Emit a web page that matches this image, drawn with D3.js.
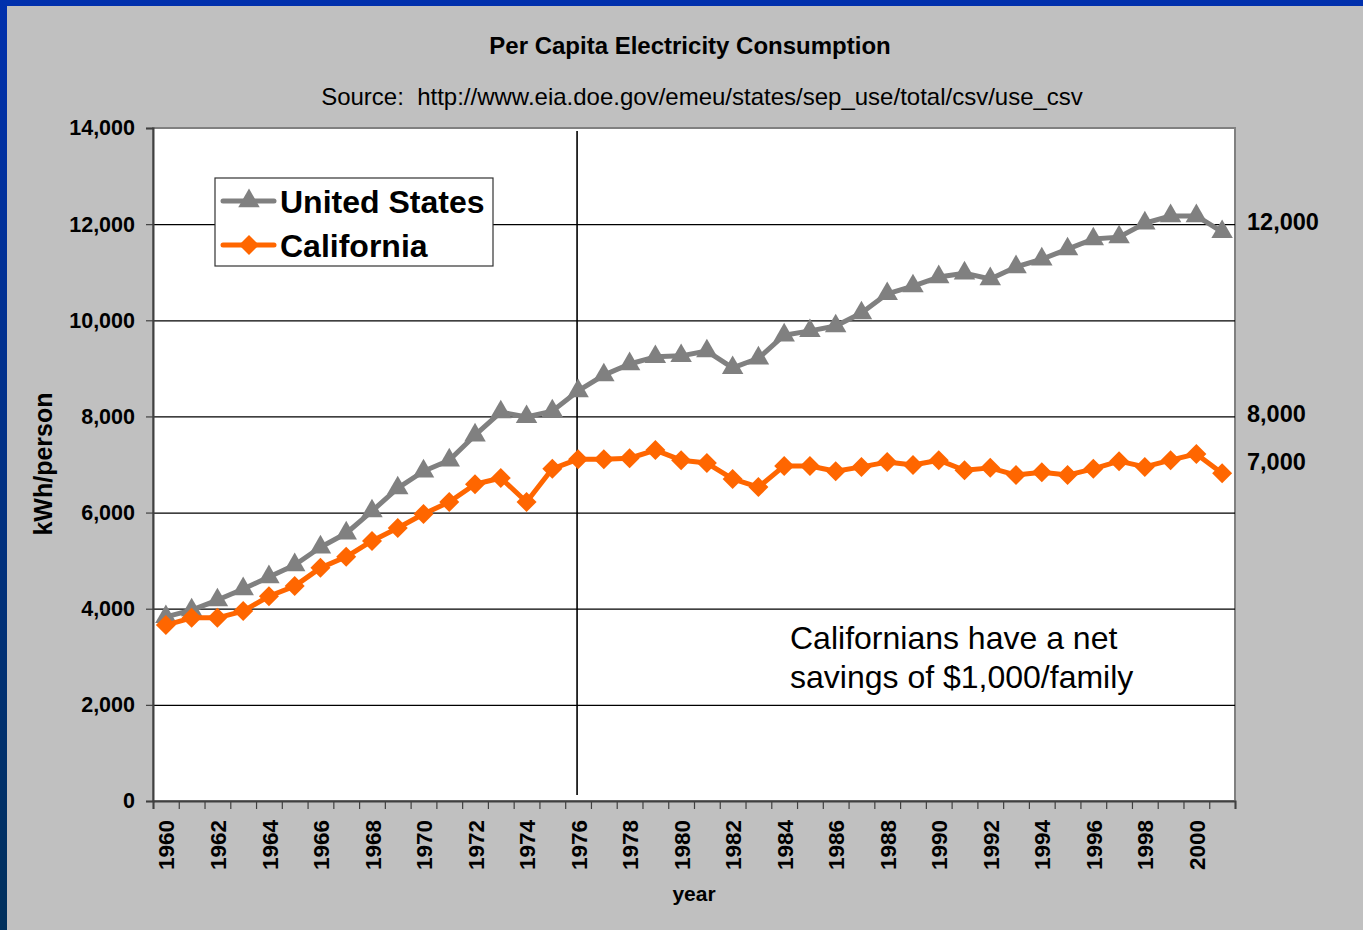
<!DOCTYPE html>
<html>
<head>
<meta charset="utf-8">
<script src="https://cdn.jsdelivr.net/npm/d3@7"></script>
<style>
  html, body { margin: 0; padding: 0; background: #c0c0c0; }
  svg { display: block; font-family: "Liberation Sans", Arial, sans-serif; }
</style>
</head>
<body>
<div class="chart"></div>
<script>
// data
const years = d3.range(1960, 2002);
const usValues = [3830, 3970, 4180, 4410, 4660, 4910, 5280, 5570, 6030, 6510,
    6860, 7090, 7610, 8090, 7990, 8110, 8530, 8860, 9090, 9240,
    9260, 9360, 9010, 9210, 9690, 9780, 9880, 10150, 10550, 10710,
    10900, 10980, 10860, 11110, 11270, 11480, 11690, 11730, 12020, 12170,
    12170, 11840];
const caValues = [3660, 3810, 3810, 3950, 4260, 4470, 4850, 5080, 5410, 5680,
    5970, 6220, 6590, 6720, 6220, 6910, 7110, 7110, 7130, 7300,
    7090, 7030, 6700, 6530, 6970, 6970, 6860, 6950, 7050, 6990,
    7090, 6880, 6930, 6780, 6840, 6780, 6910, 7070, 6950, 7090,
    7220, 6820];
const yTicks = [0, 2000, 4000, 6000, 8000, 10000, 12000, 14000];
const xLabelYears = d3.range(1960, 2001, 2);
const rightLabels = [12000, 8000, 7000];
const markerYear = 1976;
const seriesNames = ['United States', 'California'];

const W = 1363, H = 930;
const margin = { top: 128, right: 128, bottom: 129, left: 153 };
const FONT = '"Liberation Sans", Arial, sans-serif';

const svg = d3.select('.chart').append('svg')
    .attr('width', W).attr('height', H);

// blue frame on top and left
const defs = svg.append('defs');
const grad = defs.append('linearGradient').attr('id', 'frame')
    .attr('x1', 0).attr('y1', 0).attr('x2', 0).attr('y2', 1);
grad.append('stop').attr('offset', '0%').attr('stop-color', '#0030ad');
grad.append('stop').attr('offset', '100%').attr('stop-color', '#00305c');
svg.append('rect').attr('width', W).attr('height', H).attr('fill', 'url(#frame)');
svg.append('rect').attr('x', 7).attr('y', 6).attr('width', W - 7).attr('height', H - 6)
    .attr('fill', '#c0c0c0');

const x = d3.scaleLinear().domain([1959.5, 2001.5]).range([margin.left, W - margin.right]);
const y = d3.scaleLinear().domain([0, 14000]).range([H - margin.bottom, margin.top]);

// plot area
svg.append('rect')
    .attr('x', x(1959.5)).attr('y', y(14000))
    .attr('width', x(2001.5) - x(1959.5)).attr('height', y(0) - y(14000))
    .attr('fill', '#fff').attr('stroke', '#808080').attr('stroke-width', 2);

// gridlines
const grid = svg.append('g')
    .attr('transform', `translate(${x(1959.5)},0)`)
    .call(d3.axisLeft(y).tickValues(yTicks.filter(d => d > 0 && d < 14000))
        .tickSize(-(x(2001.5) - x(1959.5))).tickFormat(''));
grid.select('.domain').remove();
grid.selectAll('.tick line').attr('stroke', '#000').attr('stroke-width', 1.2);

// y axis
const yAxis = svg.append('g')
    .attr('transform', `translate(${x(1959.5)},0)`)
    .call(d3.axisLeft(y).tickValues(yTicks).tickFormat(d3.format(',')).tickSize(7).tickPadding(11));
yAxis.select('.domain').attr('stroke', '#404040').attr('stroke-width', 2);
yAxis.selectAll('.tick line').attr('stroke', '#404040').attr('stroke-width', 1.2);
yAxis.selectAll('text').style('font-size', '21.5px').style('font-weight', 'bold')
    .attr('fill', '#000').style('font-family', FONT);

// x axis: ticks between years
const xAxis = svg.append('g')
    .attr('transform', `translate(0,${y(0)})`)
    .call(d3.axisBottom(x).tickValues(d3.range(1959.5, 2002, 1)).tickFormat('').tickSize(8));
xAxis.select('.domain').attr('stroke', '#404040').attr('stroke-width', 2);
xAxis.selectAll('.tick line').attr('stroke', '#404040').attr('stroke-width', 1.2);

const xLabels = svg.append('g')
    .attr('transform', `translate(0,${y(0)})`)
    .call(d3.axisBottom(x).tickValues(xLabelYears).tickFormat(d3.format('d')).tickSize(0));
xLabels.select('.domain').remove();
xLabels.selectAll('text')
    .attr('transform', 'translate(0,19) rotate(-90)')
    .attr('x', 0).attr('y', 0).attr('dy', '0.36em')
    .style('text-anchor', 'end')
    .style('font-size', '22.5px').style('font-weight', 'bold')
    .style('font-family', FONT)
    .attr('fill', '#000');

// vertical marker line
svg.append('line')
    .attr('x1', x(markerYear) - 1).attr('x2', x(markerYear) - 1)
    .attr('y1', y(14000) + 3).attr('y2', y(0) - 6)
    .attr('stroke', '#000').attr('stroke-width', 1.6);

// series
const usData = years.map((yr, i) => ({ year: yr, value: usValues[i] }));
const caData = years.map((yr, i) => ({ year: yr, value: caValues[i] }));
const line = d3.line().x(d => x(d.year)).y(d => y(d.value));

const tri = d3.symbol().type(d3.symbolTriangle).size(200);
const dia = d3.symbol().type(d3.symbolSquare).size(200);

svg.append('path').datum(usData).attr('d', line)
    .attr('fill', 'none').attr('stroke', '#808080').attr('stroke-width', 5)
    .attr('stroke-linejoin', 'round');
svg.selectAll('.us').data(usData).enter().append('path').attr('class', 'us')
    .attr('d', tri)
    .attr('transform', d => `translate(${x(d.year)},${y(d.value)})`)
    .attr('fill', '#808080');

svg.append('path').datum(caData).attr('d', line)
    .attr('fill', 'none').attr('stroke', '#ff6600').attr('stroke-width', 5)
    .attr('stroke-linejoin', 'round');
svg.selectAll('.ca').data(caData).enter().append('path').attr('class', 'ca')
    .attr('d', dia)
    .attr('transform', d => `translate(${x(d.year)},${y(d.value)}) rotate(45)`)
    .attr('fill', '#ff6600');

// right side value labels
svg.selectAll('.rlab').data(rightLabels).enter().append('text').attr('class', 'rlab')
    .attr('x', 1247).attr('y', d => y(d) - 3).attr('dy', '0.36em')
    .text(d => d3.format(',')(d))
    .style('font-size', '23.5px').style('font-weight', 'bold');

// titles
svg.append('text').attr('x', 690).attr('y', 54).attr('text-anchor', 'middle')
    .text('Per Capita Electricity Consumption')
    .style('font-size', '24px').style('font-weight', 'bold');
svg.append('text').attr('x', 702).attr('y', 105).attr('text-anchor', 'middle')
    .style('white-space', 'pre')
    .text('Source:  http://www.eia.doe.gov/emeu/states/sep_use/total/csv/use_csv')
    .style('font-size', '24px');

svg.append('text')
    .attr('transform', 'translate(52,464) rotate(-90)')
    .attr('text-anchor', 'middle')
    .text('kWh/person')
    .style('font-size', '25px').style('font-weight', 'bold');
svg.append('text').attr('x', 694).attr('y', 901).attr('text-anchor', 'middle')
    .text('year').style('font-size', '21px').style('font-weight', 'bold');

// annotation
const note = svg.append('text').style('font-size', '32px');
note.append('tspan').attr('x', 790).attr('y', 649).text('Californians have a net');
note.append('tspan').attr('x', 790).attr('y', 688).text('savings of $1,000/family');

// legend
const legend = svg.append('g').attr('transform', 'translate(215,178)');
legend.append('rect').attr('width', 278).attr('height', 88)
    .attr('fill', '#fff').attr('stroke', '#333').attr('stroke-width', 1.2);
const legendItems = [
    { name: seriesNames[0], color: '#808080', sym: tri, rot: 0 },
    { name: seriesNames[1], color: '#ff6600', sym: dia, rot: 45 }
];
legendItems.forEach((it, i) => {
    const g = legend.append('g').attr('transform', `translate(0,${23 + i * 44})`);
    g.append('line').attr('x1', 8).attr('x2', 59).attr('y1', 0).attr('y2', 0)
        .attr('stroke', it.color).attr('stroke-width', 5).attr('stroke-linecap', 'round');
    g.append('path').attr('d', it.sym)
        .attr('transform', `translate(34,0) rotate(${it.rot})`)
        .attr('fill', it.color);
    g.append('text').attr('x', 65).attr('y', 12).text(it.name)
        .style('font-size', '32px').style('font-weight', 'bold');
});
</script>
</body>
</html>
